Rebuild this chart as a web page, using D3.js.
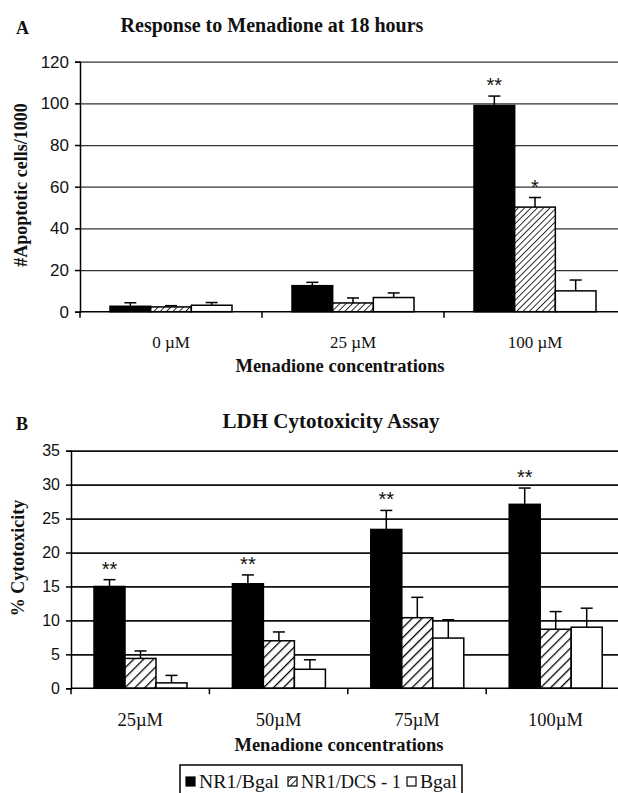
<!DOCTYPE html>
<html>
<head>
<meta charset="utf-8">
<script src="https://cdn.jsdelivr.net/npm/d3@7"></script>
<style>
  body { margin: 0; background: #fff; }
  text { fill: #111; }
  .serif { font-family: "Liberation Serif", "Times New Roman", serif; }
  .sans { font-family: "Liberation Sans", Arial, sans-serif; }
</style>
</head>
<body>
<svg id="fig" width="618" height="793"></svg>
<script>
// panel A data
const catsA = ["0 \u00b5M", "25 \u00b5M", "100 \u00b5M"];
const seriesNames = ["NR1/Bgal", "NR1/DCS - 1", "Bgal"];
const valsA = [[2.6, 12.5, 99], [2.3, 4.2, 50.2], [3.1, 6.8, 10]];
const errA = [[4.3, 14.1, 103.5], [2.9, 6.6, 54.8], [4.4, 9, 15.2]];
const starsA = [["", "", "**"], ["", "", "*"], ["", "", ""]];
const ticksA = [0, 20, 40, 60, 80, 100, 120];

// panel B data
const catsB = ["25\u00b5M", "50\u00b5M", "75\u00b5M", "100\u00b5M"];
const valsB = [[15, 15.4, 23.4, 27.1], [4.4, 7, 10.4, 8.7], [0.8, 2.8, 7.4, 9]];
const errB = [[16, 16.7, 26.2, 29.5], [5.5, 8.3, 13.4, 11.3], [1.9, 4.2, 10.1, 11.8]];
const starsB = [["**", "**", "**", "**"], ["", "", "", ""], ["", "", "", ""]];
const ticksB = [0, 5, 10, 15, 20, 25, 30, 35];

const svg = d3.select("#fig");

function hatch(id, gap, sw) {
  let defs = svg.select("defs");
  if (defs.empty()) defs = svg.append("defs");
  const p = defs.append("pattern")
    .attr("id", id)
    .attr("patternUnits", "userSpaceOnUse")
    .attr("width", gap).attr("height", gap)
    .attr("patternTransform", "rotate(45)");
  p.append("rect").attr("width", gap).attr("height", gap).attr("fill", "#fff");
  p.append("line")
    .attr("x1", 0).attr("y1", 0).attr("x2", 0).attr("y2", gap)
    .attr("stroke", "#000").attr("stroke-width", sw);
}
hatch("hatchA", 4.5, 1.6);
hatch("hatchB", 7, 2.6);

function panel(opt) {
  const g = svg.append("g");
  const x0 = d3.scaleBand().domain(opt.cats).range([opt.left, opt.right]);
  const x1 = d3.scaleBand().domain(d3.range(3)).range(opt.inner);
  const y = d3.scaleLinear().domain(opt.domain).range([opt.bottom, opt.top]);

  // grid lines
  g.append("g")
    .attr("transform", `translate(${opt.left},0)`)
    .call(d3.axisLeft(y).tickValues(opt.ticks.slice(1)).tickSize(-(opt.right - opt.left)).tickFormat(""))
    .call(a => a.select(".domain").remove())
    .selectAll("line").attr("stroke", opt.gridColor).attr("stroke-width", opt.gridWidth);

  // bars
  const fills = ["#000", `url(#${opt.hatch})`, "#fff"];
  for (let s = 0; s < 3; s++) {
    const bg = g.append("g");
    bg.selectAll("rect").data(opt.vals[s]).join("rect")
      .attr("x", (d, i) => x0(opt.cats[i]) + x1(s))
      .attr("width", x1.bandwidth())
      .attr("y", d => y(d))
      .attr("height", d => y(0) - y(d))
      .attr("fill", fills[s])
      .attr("stroke", "#000").attr("stroke-width", 1.5);
    // error bars (upper only)
    const cx = i => x0(opt.cats[i]) + x1(s) + x1.bandwidth() / 2;
    bg.selectAll("line.err").data(opt.errs[s]).join("line")
      .attr("class", "err")
      .attr("x1", (d, i) => cx(i)).attr("x2", (d, i) => cx(i))
      .attr("y1", (d, i) => y(opt.vals[s][i])).attr("y2", d => y(d))
      .attr("stroke", "#000").attr("stroke-width", 1.5);
    bg.selectAll("line.cap").data(opt.errs[s]).join("line")
      .attr("class", "cap")
      .attr("x1", (d, i) => cx(i) - opt.cap).attr("x2", (d, i) => cx(i) + opt.cap)
      .attr("y1", d => y(d)).attr("y2", d => y(d))
      .attr("stroke", "#000").attr("stroke-width", 1.5);
    bg.selectAll("text").data(opt.stars[s]).join("text")
      .attr("class", "sans")
      .attr("x", (d, i) => cx(i))
      .attr("y", (d, i) => y(opt.errs[s][i]) - 4)
      .attr("text-anchor", "middle")
      .attr("font-size", opt.starSize)
      .attr("fill", "#333")
      .text(d => d);
  }

  // y axis
  const ya = g.append("g")
    .attr("transform", `translate(${opt.left},0)`)
    .call(d3.axisLeft(y).tickValues(opt.ticks).tickSize(5).tickPadding(6));
  ya.select(".domain").attr("stroke", "#000").attr("stroke-width", 1.5);
  ya.selectAll("line").attr("stroke", "#000").attr("stroke-width", 1.5);
  ya.selectAll("text").attr("class", "sans").attr("font-size", opt.tickSize).attr("fill", "#111");

  // x axis with ticks at category boundaries
  const xa = g.append("g").attr("transform", `translate(0,${opt.bottom})`);
  xa.append("line").attr("x1", opt.left).attr("x2", opt.right)
    .attr("stroke", "#000").attr("stroke-width", 1.5);
  xa.selectAll("line.tk").data(opt.cats).join("line")
    .attr("class", "tk")
    .attr("x1", d => x0(d)).attr("x2", d => x0(d))
    .attr("y1", 0).attr("y2", 6)
    .attr("stroke", "#000").attr("stroke-width", 1.5);
  xa.selectAll("text").data(opt.cats).join("text")
    .attr("class", "serif")
    .attr("x", d => x0(d) + x0.bandwidth() / 2)
    .attr("y", opt.catY)
    .attr("text-anchor", "middle")
    .attr("font-size", opt.catSize)
    .text(d => d);

  // titles
  svg.append("text").attr("class", "serif")
    .attr("x", opt.titleX).attr("y", opt.titleY)
    .attr("text-anchor", "middle").attr("font-weight", "bold").attr("font-size", opt.titleSize)
    .text(opt.title);
  svg.append("text").attr("class", "serif")
    .attr("x", 16).attr("y", opt.titleY + 2)
    .attr("font-weight", "bold").attr("font-size", 18)
    .text(opt.letter);
  svg.append("text").attr("class", "serif")
    .attr("x", opt.xTitleX).attr("y", opt.xTitleY)
    .attr("text-anchor", "middle").attr("font-weight", "bold").attr("font-size", 18.5)
    .text("Menadione concentrations");
  svg.append("text").attr("class", "serif")
    .attr("transform", `translate(${opt.yTitleX},${opt.yTitleY}) rotate(-90)`)
    .attr("text-anchor", "middle").attr("font-weight", "bold").attr("font-size", 18)
    .text(opt.yTitle);
}

panel({
  cats: catsA, vals: valsA, errs: errA, stars: starsA, ticks: ticksA,
  domain: [0, 120], left: 80, right: 626, top: 61.7, bottom: 311.7,
  inner: [30, 152], hatch: "hatchA", gridColor: "#333", gridWidth: 1.3,
  cap: 6, starSize: 20, tickSize: 17, catSize: 17, catY: 36,
  title: "Response to Menadione at 18 hours", titleSize: 20, titleX: 272, titleY: 32, letter: "A",
  xTitleX: 340, xTitleY: 372, yTitle: "#Apoptotic cells/1000", yTitleX: 27, yTitleY: 185
});

panel({
  cats: catsB, vals: valsB, errs: errB, stars: starsB, ticks: ticksB,
  domain: [0, 35], left: 71, right: 624.6, top: 450.7, bottom: 688.3,
  inner: [23, 116], hatch: "hatchB", gridColor: "#111", gridWidth: 1.8,
  cap: 6, starSize: 20, tickSize: 16, catSize: 18.5, catY: 38,
  title: "LDH Cytotoxicity Assay", titleSize: 21, titleX: 331, titleY: 428, letter: "B",
  xTitleX: 339, xTitleY: 751, yTitle: "% Cytotoxicity", yTitleX: 24, yTitleY: 558
});

// legend
const lg = svg.append("g");
lg.append("rect").attr("x", 180).attr("y", 765).attr("width", 282).attr("height", 40)
  .attr("fill", "#fff").attr("stroke", "#000").attr("stroke-width", 1.5);
const legFills = ["#000", "url(#hatchA)", "#fff"];
const legX = d3.scaleOrdinal().domain(seriesNames).range([186, 288, 407]);
const legW = d3.scaleOrdinal().domain(seriesNames).range([80, 100, 37]);
lg.selectAll("rect.sw").data(seriesNames).join("rect")
  .attr("class", "sw")
  .attr("x", d => legX(d)).attr("y", 777)
  .attr("width", 9).attr("height", 9)
  .attr("fill", (d, i) => legFills[i]).attr("stroke", "#000").attr("stroke-width", 1.2);
lg.selectAll("text").data(seriesNames).join("text")
  .attr("class", "serif")
  .attr("x", d => legX(d) + 13).attr("y", 788)
  .attr("font-size", 19)
  .attr("textLength", d => legW(d))
  .attr("lengthAdjust", "spacingAndGlyphs")
  .text(d => d);
</script>
</body>
</html>
